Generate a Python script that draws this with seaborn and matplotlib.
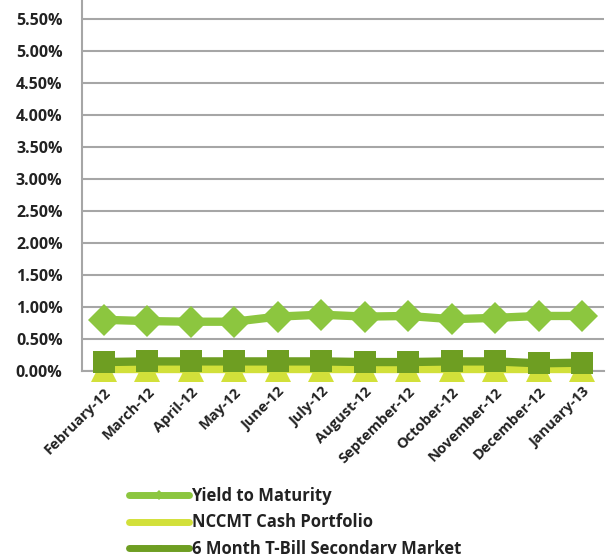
import matplotlib
matplotlib.use("Agg")
import matplotlib.pyplot as plt
import matplotlib.transforms as mtransforms
import seaborn as sns
import pandas as pd
from matplotlib.ticker import FuncFormatter, FixedLocator
from matplotlib.lines import Line2D

months = ["February-12", "March-12", "April-12", "May-12", "June-12", "July-12",
          "August-12", "September-12", "October-12", "November-12", "December-12", "January-13"]
yield_to_maturity = [0.80, 0.78, 0.77, 0.77, 0.85, 0.88, 0.85, 0.86, 0.81, 0.83, 0.86, 0.86]
nccmt_cash = [0.03, 0.03, 0.03, 0.03, 0.03, 0.03, 0.03, 0.03, 0.03, 0.03, 0.03, 0.03]
tbill_6m = [0.14, 0.15, 0.15, 0.15, 0.15, 0.15, 0.14, 0.14, 0.15, 0.15, 0.12, 0.13]
y_ticks = [0.0, 0.5, 1.0, 1.5, 2.0, 2.5, 3.0, 3.5, 4.0, 4.5, 5.0, 5.5]

series_names = ["Yield to Maturity", "NCCMT Cash Portfolio", "6 Month T-Bill Secondary Market"]
series_vals = [yield_to_maturity, nccmt_cash, tbill_6m]
colors = ["#8CC63F", "#D2E03A", "#6E9E22"]
markers = ["D", "^", "s"]
msizes = [16, 19, 16]

sns.set_style("white")
plt.rcParams["font.family"] = ["Open Sans", "DejaVu Sans"]

fig = plt.figure(figsize=(6.06, 5.54), dpi=100)
ax = fig.add_axes([82 / 606, 1 - 371 / 554, (604 - 82) / 606, (371 + 13) / 554])

pos = list(range(len(months)))
for name, vals, c, m, ms in zip(series_names, series_vals, colors, markers, msizes):
    df = pd.DataFrame({"x": pos, "y": vals})
    sns.lineplot(data=df, x="x", y="y", ax=ax, color=c, linewidth=6, marker=m,
                 markersize=ms, markeredgewidth=0, sort=False,
                 clip_on=False, zorder=3)

ax.set_xlim(-0.5, len(months) - 0.5)
ax.set_ylim(0, 6.0)
ax.yaxis.set_major_locator(FixedLocator(y_ticks))
ax.yaxis.set_major_formatter(FuncFormatter(lambda v, p: f"{v:.2f}%"))
ax.grid(axis="y", color="#A6A6A6", linewidth=1.5, zorder=0)
ax.set_axisbelow(True)

ax.set_xticks(pos)
ax.set_xticklabels(months, rotation=45, ha="right", rotation_mode="anchor",
                   fontsize=10.5, fontweight="bold", color="#222222")
shift = mtransforms.ScaledTranslation(-3 / 100, 0, fig.dpi_scale_trans)
for lab in ax.get_xticklabels():
    lab.set_transform(lab.get_transform() + shift)
ax.xaxis.set_minor_locator(FixedLocator([p - 0.5 for p in range(len(months) + 1)]))
ax.tick_params(axis="x", which="major", length=0, pad=10)
ax.tick_params(axis="x", which="minor", length=5, width=1.2, color="#A6A6A6", direction="out")
ax.tick_params(axis="y", length=6, width=1.2, color="#A6A6A6", direction="out",
               labelsize=11.5, pad=8)
for lab in ax.get_yticklabels():
    lab.set_fontweight("bold")
    lab.set_color("#222222")

for s in ["top", "right"]:
    ax.spines[s].set_visible(False)
for s in ["left", "bottom"]:
    ax.spines[s].set_color("#A6A6A6")
    ax.spines[s].set_linewidth(1.5)

ax.set_xlabel("")
ax.set_ylabel("")

handles = [Line2D([], [], color=c, linewidth=5, marker=m, markersize=5, markeredgewidth=0)
           for c, m in zip(colors, markers)]
leg = fig.legend(handles, series_names, loc="upper left", bbox_to_anchor=(124 / 606, 1 - 482 / 554),
                 frameon=False, handlelength=3.6, handletextpad=0.15, labelspacing=0.5,
                 borderaxespad=0, borderpad=0.3,
                 prop={"size": 12, "weight": "bold"})
for t in leg.get_texts():
    t.set_color("#222222")

fig.savefig("out.png", dpi=100)
